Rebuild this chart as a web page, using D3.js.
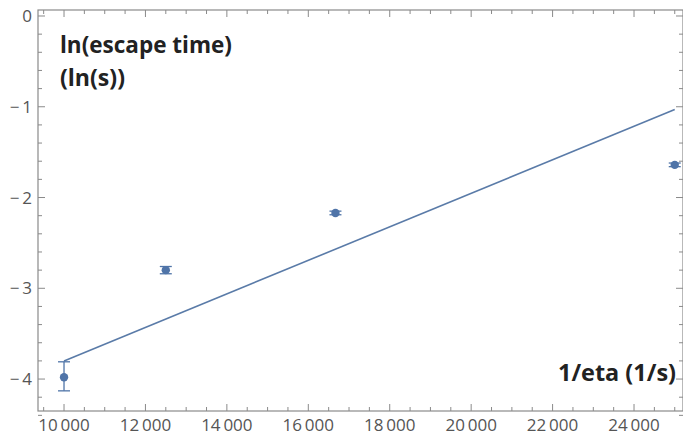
<!DOCTYPE html>
<html>
<head>
<meta charset="utf-8">
<script src="https://cdn.jsdelivr.net/npm/d3@7"></script>
<style>
  body { margin: 0; background: #fff; }
  svg { display: block; }
  .tick-label { font-family: "Open Sans", sans-serif; font-size: 17px; fill: #555; }
  .axis-title { font-family: "Open Sans", sans-serif; font-size: 24px; font-weight: bold; fill: #222; }
</style>
</head>
<body>
<div class="canvas"></div>
<script>
// data
const invEta = [10000, 12500, 16667, 25000];
const lnTime = [-3.98, -2.80, -2.17, -1.64];
const errLow = [-4.13, -2.84, -2.19, -1.66];
const errHigh = [-3.81, -2.76, -2.15, -1.62];
const fitX = [10000, 25000];
const fitY = [-3.80, -1.03];
const xTickValues = [10000, 12000, 14000, 16000, 18000, 20000, 22000, 24000];
const yTickValues = [0, -1, -2, -3, -4];

const dim = { width: 683, height: 435 };
const frame = { left: 38, right: 683, top: 10, bottom: 411 };

const svg = d3.select('.canvas')
    .append('svg')
    .attr('width', dim.width)
    .attr('height', dim.height);

const x = d3.scaleLinear()
    .domain([9361, 25203])
    .range([frame.left, frame.right]);

const y = d3.scaleLinear()
    .domain([0.066, -4.352])
    .range([frame.top, frame.bottom]);

const fmt = v => {
    const s = String(Math.abs(v));
    const body = s.length > 4 ? s.slice(0, s.length - 3) + '\u2009' + s.slice(-3) : s;
    return (v < 0 ? '\u2212\u2009' : '') + body;
};

// frame
svg.append('rect')
    .attr('x', frame.left)
    .attr('y', frame.top)
    .attr('width', frame.right - frame.left)
    .attr('height', frame.bottom - frame.top)
    .attr('fill', 'none')
    .attr('stroke', '#8a8a8a')
    .attr('stroke-width', 1.2);

// minor + major ticks, pointing inward, on all four sides
const xMinor = d3.range(9500, 25201, 500);
const yMinor = d3.range(0, -4.41, -0.2).map(v => +v.toFixed(1));
const isMajorX = v => v % 2000 === 0;
const isMajorY = v => Math.abs(v - Math.round(v)) < 1e-6;

const tickG = svg.append('g').attr('stroke', '#8a8a8a').attr('stroke-width', 1);

tickG.selectAll('.xb').data(xMinor).enter().append('line')
    .attr('x1', d => x(d)).attr('x2', d => x(d))
    .attr('y1', frame.bottom).attr('y2', d => frame.bottom - (isMajorX(d) ? 7 : 4));
tickG.selectAll('.xt').data(xMinor).enter().append('line')
    .attr('x1', d => x(d)).attr('x2', d => x(d))
    .attr('y1', frame.top).attr('y2', d => frame.top + (isMajorX(d) ? 7 : 4));
tickG.selectAll('.yl').data(yMinor).enter().append('line')
    .attr('y1', d => y(d)).attr('y2', d => y(d))
    .attr('x1', frame.left).attr('x2', d => frame.left + (isMajorY(d) ? 7 : 4));
tickG.selectAll('.yr').data(yMinor).enter().append('line')
    .attr('y1', d => y(d)).attr('y2', d => y(d))
    .attr('x1', frame.right).attr('x2', d => frame.right - (isMajorY(d) ? 7 : 4));

// tick labels
svg.selectAll('.xlab').data(xTickValues).enter().append('text')
    .attr('class', 'tick-label')
    .attr('x', d => x(d))
    .attr('y', frame.bottom + 20)
    .attr('text-anchor', 'middle')
    .text(fmt);

svg.selectAll('.ylab').data(yTickValues).enter().append('text')
    .attr('class', 'tick-label')
    .attr('x', frame.left - 6)
    .attr('y', d => y(d) + 6)
    .attr('text-anchor', 'end')
    .text(fmt);

// fit line
const line = d3.line().x(d => x(d[0])).y(d => y(d[1]));
svg.append('path')
    .datum(d3.zip(fitX, fitY))
    .attr('d', line)
    .attr('fill', 'none')
    .attr('stroke', '#5a7ba8')
    .attr('stroke-width', 1.6);

// error bars + points
const pts = invEta.map((v, i) => ({ x: v, y: lnTime[i], lo: errLow[i], hi: errHigh[i] }));
const col = '#4f74a8';
const eb = svg.append('g').attr('stroke', col).attr('stroke-width', 1.3);
eb.selectAll('.v').data(pts).enter().append('line')
    .attr('x1', d => x(d.x)).attr('x2', d => x(d.x))
    .attr('y1', d => y(d.lo)).attr('y2', d => y(d.hi));
eb.selectAll('.c1').data(pts).enter().append('line')
    .attr('x1', d => x(d.x) - 6).attr('x2', d => x(d.x) + 6)
    .attr('y1', d => y(d.lo)).attr('y2', d => y(d.lo));
eb.selectAll('.c2').data(pts).enter().append('line')
    .attr('x1', d => x(d.x) - 6).attr('x2', d => x(d.x) + 6)
    .attr('y1', d => y(d.hi)).attr('y2', d => y(d.hi));

svg.selectAll('circle').data(pts).enter().append('circle')
    .attr('cx', d => x(d.x))
    .attr('cy', d => y(d.y))
    .attr('r', 4.2)
    .attr('fill', col);

// axis titles
svg.append('text').attr('class', 'axis-title')
    .attr('x', 60).attr('y', 53)
    .attr('textLength', 172).attr('lengthAdjust', 'spacingAndGlyphs')
    .text('ln(escape time)');
svg.append('text').attr('class', 'axis-title')
    .attr('x', 60).attr('y', 86)
    .attr('textLength', 65).attr('lengthAdjust', 'spacingAndGlyphs')
    .text('(ln(s))');
svg.append('text').attr('class', 'axis-title')
    .attr('x', 676).attr('y', 381)
    .attr('text-anchor', 'end')
    .attr('textLength', 118).attr('lengthAdjust', 'spacingAndGlyphs')
    .text('1/eta (1/s)');
</script>
</body>
</html>
